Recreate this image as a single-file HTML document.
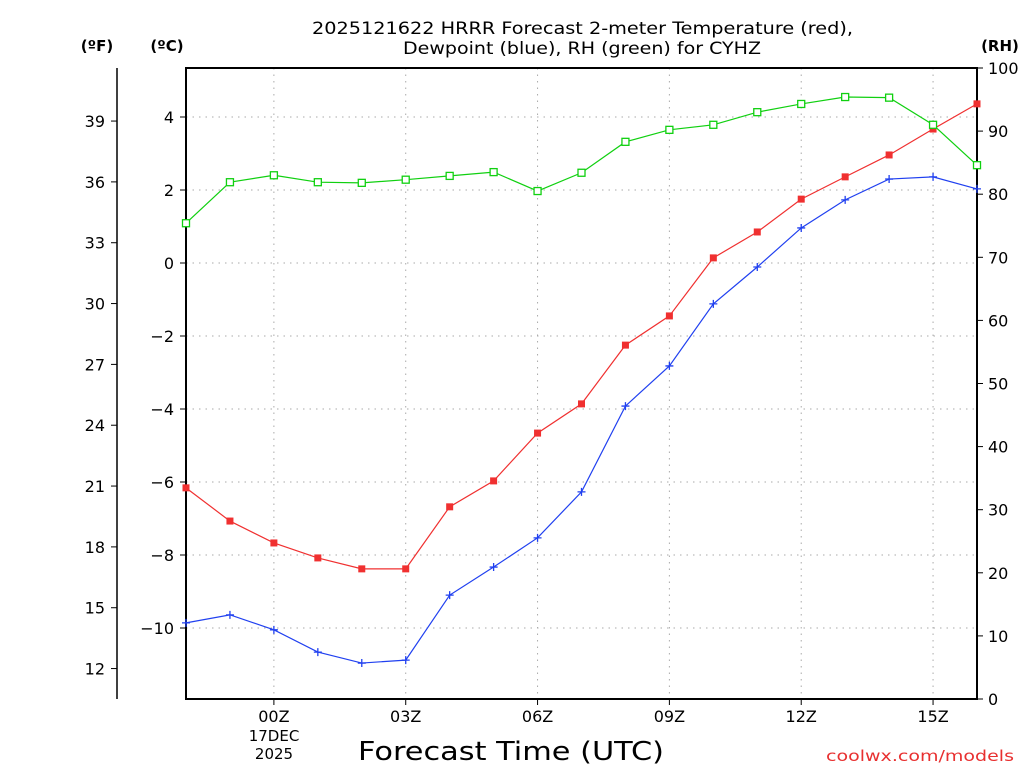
<!DOCTYPE html>
<html><head><meta charset="utf-8"><style>
body{margin:0;background:#fff;}
svg text{font-family:"DejaVu Sans","Liberation Sans",sans-serif;}
</style></head><body>
<svg id="chart" width="1024" height="768" xmlns="http://www.w3.org/2000/svg">
<g id="grid"></g>
<g id="axes"></g>
<g id="series"></g>
<text x="312" y="34" font-size="17" textLength="541" lengthAdjust="spacingAndGlyphs">2025121622 HRRR Forecast 2-meter Temperature (red),</text>
<text x="403" y="54" font-size="17" textLength="358" lengthAdjust="spacingAndGlyphs">Dewpoint (blue), RH (green) for CYHZ</text>
<text x="97" y="51" font-size="15" font-weight="bold" text-anchor="middle">(ºF)</text>
<text x="167" y="51" font-size="15" font-weight="bold" text-anchor="middle">(ºC)</text>
<text x="1000" y="51" font-size="15" font-weight="bold" text-anchor="middle">(RH)</text>
<text x="358" y="760" font-size="26" textLength="306" lengthAdjust="spacingAndGlyphs">Forecast Time (UTC)</text>
<text x="274" y="741" font-size="15" text-anchor="middle">17DEC</text>
<text x="274" y="759" font-size="15" text-anchor="middle">2025</text>
<text x="826" y="761" font-size="15" fill="#e83030" textLength="188" lengthAdjust="spacingAndGlyphs">coolwx.com/models</text>
</svg>
<script>
const hours=[-2,-1,0,1,2,3,4,5,6,7,8,9,10,11,12,13,14,15,16];
const tempC=[-6.16,-7.07,-7.67,-8.08,-8.38,-8.38,-6.68,-5.97,-4.66,-3.86,-2.25,-1.45,0.14,0.85,1.75,2.36,2.96,3.67,4.36];
const dewC=[-9.86,-9.64,-10.05,-10.66,-10.96,-10.88,-9.10,-8.33,-7.53,-6.27,-3.92,-2.82,-1.12,-0.11,0.96,1.73,2.30,2.36,2.03];
const rh=[75.4,81.9,83.0,81.9,81.8,82.3,82.9,83.5,80.5,83.4,88.3,90.2,91.0,93.0,94.3,95.4,95.3,91.0,84.6];
const xTickHours=[0,3,6,9,12,15];
const xTickLabels=["00Z","03Z","06Z","09Z","12Z","15Z"];
const cTicks=[-10,-8,-6,-4,-2,0,2,4];
const fTicks=[12,15,18,21,24,27,30,33,36,39];
const rhTicks=[0,10,20,30,40,50,60,70,80,90,100];
const L=186,R=977,T=68,B=699;
const xs=h=>L+(h+2)*(R-L)/18;
const yc=c=>263-c*36.5;
const yf=f=>yc((f-32)*5/9);
const yr=r=>B-r*(B-T)/100;
const NS="http://www.w3.org/2000/svg";
function mk(tag,attrs,parent,txt){const e=document.createElementNS(NS,tag);for(const k in attrs)e.setAttribute(k,attrs[k]);if(txt!==undefined)e.textContent=txt;parent.appendChild(e);return e;}
const grid=document.getElementById('grid'),axes=document.getElementById('axes'),ser=document.getElementById('series');
xTickHours.forEach((h,i)=>{
 const g=mk('line',{x1:xs(h),x2:xs(h),y1:T,y2:B,stroke:'#aaa','stroke-dasharray':'1.5,5'},grid);
 
 
 const t=mk('line',{x1:xs(h),x2:xs(h),y1:B,y2:B+6,stroke:'#000'},axes);
 
 
 const l=mk('text',{x:xs(h),y:B+23,'font-size':16,'text-anchor':'middle'},axes,xTickLabels[i]);
 
 
});
cTicks.forEach(c=>{
 const g=mk('line',{x1:L,x2:R,y1:yc(c),y2:yc(c),stroke:'#aaa','stroke-dasharray':'1.5,5'},grid);
 
 
 const t=mk('line',{x1:L-6,x2:L,y1:yc(c),y2:yc(c),stroke:'#000'},axes);
 
 
 const l=mk('text',{x:L-12,y:yc(c)+6,'font-size':16,'text-anchor':'end'},axes,c<0?'\u2212'+(-c):String(c));
 
 
});
fTicks.forEach(f=>{
 const t=mk('line',{x1:111,x2:117,y1:yf(f),y2:yf(f),stroke:'#000'},axes);
 
 
 const l=mk('text',{x:105,y:yf(f)+6,'font-size':16,'text-anchor':'end'},axes,String(f));
 
 
});
rhTicks.forEach(r=>{
 const t=mk('line',{x1:R,x2:R+6,y1:yr(r),y2:yr(r),stroke:'#000'},axes);
 
 
 const l=mk('text',{x:988,y:yr(r)+6,'font-size':16},axes,String(r));
 
 
});
const fl=mk('line',{x1:117,x2:117,y1:T,y2:B,stroke:'#000','stroke-width':1.5},axes);


const fr=mk('rect',{x:L,y:T,width:R-L,height:B-T,fill:'none',stroke:'#000','stroke-width':2},axes);


function line(vals,yfn,color,name){
 const p=mk('polyline',{points:vals.map((v,i)=>xs(hours[i])+','+yfn(v)).join(' '),fill:'none',stroke:color,'stroke-width':1.2},ser);
 
 
}
line(tempC,yc,'#f03030','temperature');
line(dewC,yc,'#2040f0','dewpoint');
line(rh,yr,'#10d010','rh');
tempC.forEach((v,i)=>{const m=mk('rect',{x:xs(hours[i])-3.5,y:yc(v)-3.5,width:7,height:7,fill:'#f03030'},ser);
 
 });
dewC.forEach((v,i)=>{const x=xs(hours[i]),y=yc(v);const m=mk('path',{d:`M${x-4},${y}H${x+4}M${x},${y-4}V${y+4}`,stroke:'#2040f0','stroke-width':1.3},ser);
 
 });
rh.forEach((v,i)=>{const m=mk('rect',{x:xs(hours[i])-3.5,y:yr(v)-3.5,width:7,height:7,fill:'#fff',stroke:'#10d010','stroke-width':1.3},ser);
 
 });
</script>
</body></html>
